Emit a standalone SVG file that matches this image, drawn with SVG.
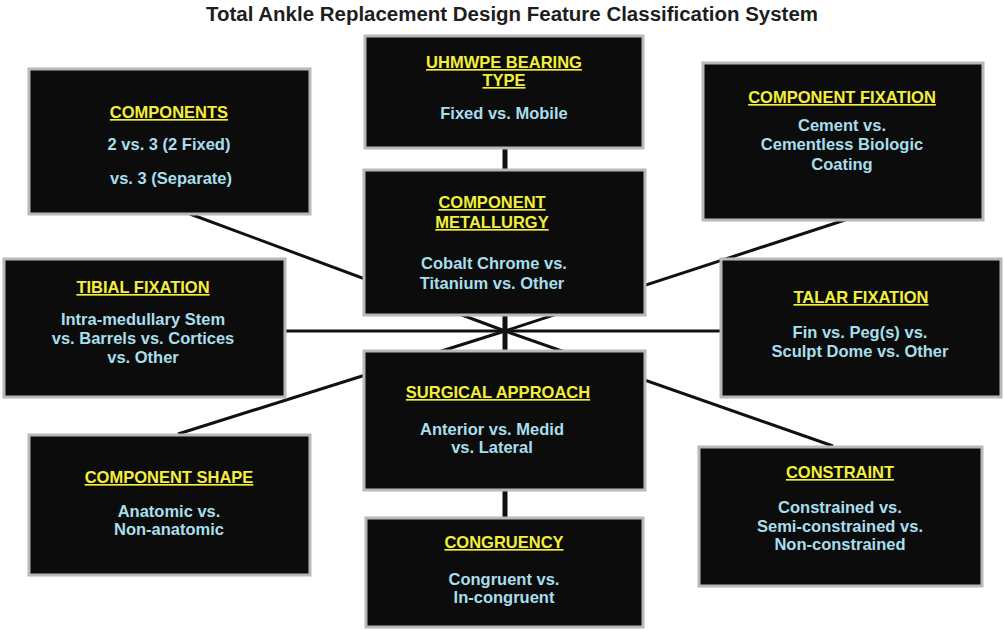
<svg xmlns="http://www.w3.org/2000/svg" width="1004" height="630" viewBox="0 0 1004 630">
<style>
.box{fill:#0c0c0c;stroke:#b8b8b8;stroke-width:3}
.h{font-family:"Liberation Sans",Arial,sans-serif;font-weight:bold;font-size:16.5px;fill:#f4ef3c;text-anchor:middle;text-decoration:underline}
.t{font-family:"Liberation Sans",Arial,sans-serif;font-weight:bold;font-size:16.5px;fill:#a8dfec;text-anchor:middle}
.ln{stroke:#111;stroke-width:3;fill:none}
.vl{stroke:#111;stroke-width:5;fill:none}
.title{font-family:"Liberation Sans",Arial,sans-serif;font-weight:bold;font-size:20px;fill:#1e1e1e;text-anchor:middle}
</style>
<rect width="1004" height="630" fill="#ffffff"/>
<text class="title" x="512" y="21" textLength="612" lengthAdjust="spacingAndGlyphs">Total Ankle Replacement Design Feature Classification System</text>
<g id="connectors">
<line class="ln" x1="190" y1="214" x2="505" y2="331"/>
<line class="ln" x1="845" y1="220" x2="505" y2="331"/>
<line class="ln" x1="178" y1="434" x2="505" y2="331"/>
<line class="ln" x1="833" y1="446" x2="505" y2="331"/>
<line class="ln" x1="285" y1="331" x2="720" y2="331"/>
<line class="vl" x1="505" y1="148" x2="505" y2="169"/>
<line class="vl" x1="505" y1="315" x2="505" y2="350"/>
<line class="vl" x1="505" y1="490" x2="505" y2="517"/>
</g>
<g id="uhmwpe">
<rect class="box" x="365" y="36" width="278" height="112"/>
<text class="h" x="504" y="68">UHMWPE BEARING</text>
<text class="h" x="504" y="86">TYPE</text>
<text class="t" x="504" y="119">Fixed vs. Mobile</text>
</g>
<g id="components">
<rect class="box" x="29" y="69" width="281" height="145"/>
<text class="h" x="169" y="118">COMPONENTS</text>
<text class="t" x="169" y="150">2 vs. 3 (2 Fixed)</text>
<text class="t" x="171" y="184">vs. 3 (Separate)</text>
</g>
<g id="component-fixation">
<rect class="box" x="703" y="63" width="280" height="157"/>
<text class="h" x="842" y="103">COMPONENT FIXATION</text>
<text class="t" x="842" y="131">Cement vs.</text>
<text class="t" x="842" y="150">Cementless Biologic</text>
<text class="t" x="842" y="170">Coating</text>
</g>
<g id="metallurgy">
<rect class="box" x="364" y="170" width="281" height="145"/>
<text class="h" x="492" y="208">COMPONENT</text>
<text class="h" x="492" y="228">METALLURGY</text>
<text class="t" x="494" y="269">Cobalt Chrome vs.</text>
<text class="t" x="492" y="289">Titanium vs. Other</text>
</g>
<g id="tibial-fixation">
<rect class="box" x="4" y="259" width="281" height="138"/>
<text class="h" x="143" y="293">TIBIAL FIXATION</text>
<text class="t" x="143" y="325">Intra-medullary Stem</text>
<text class="t" x="143" y="344">vs. Barrels vs. Cortices</text>
<text class="t" x="143" y="363">vs. Other</text>
</g>
<g id="talar-fixation">
<rect class="box" x="721" y="259" width="280" height="138"/>
<text class="h" x="861" y="303">TALAR FIXATION</text>
<text class="t" x="860" y="338">Fin vs. Peg(s) vs.</text>
<text class="t" x="860" y="357">Sculpt Dome vs. Other</text>
</g>
<g id="surgical-approach">
<rect class="box" x="364" y="351" width="281" height="139"/>
<text class="h" x="498" y="398">SURGICAL APPROACH</text>
<text class="t" x="492" y="435">Anterior vs. Medid</text>
<text class="t" x="492" y="453">vs. Lateral</text>
</g>
<g id="component-shape">
<rect class="box" x="29" y="435" width="281" height="140"/>
<text class="h" x="169" y="483">COMPONENT SHAPE</text>
<text class="t" x="169" y="517">Anatomic vs.</text>
<text class="t" x="169" y="535">Non-anatomic</text>
</g>
<g id="constraint">
<rect class="box" x="699" y="447" width="283" height="139"/>
<text class="h" x="840" y="478">CONSTRAINT</text>
<text class="t" x="840" y="513">Constrained vs.</text>
<text class="t" x="840" y="532">Semi-constrained vs.</text>
<text class="t" x="840" y="550">Non-constrained</text>
</g>
<g id="congruency">
<rect class="box" x="366" y="518" width="277" height="109"/>
<text class="h" x="504" y="548">CONGRUENCY</text>
<text class="t" x="504" y="585">Congruent vs.</text>
<text class="t" x="504" y="603">In-congruent</text>
</g>
</svg>
